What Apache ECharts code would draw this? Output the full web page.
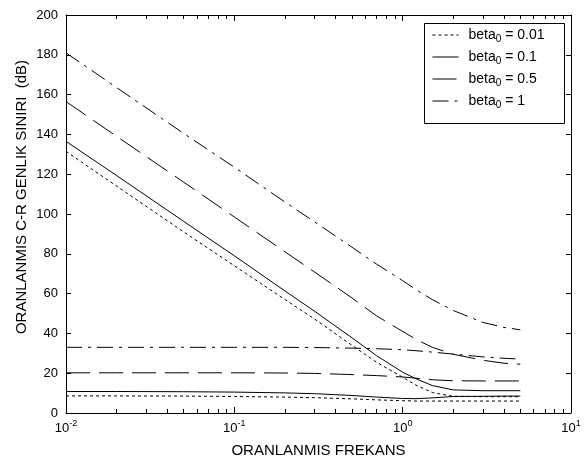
<!DOCTYPE html>
<html><head><meta charset="utf-8">
<script src="https://cdn.jsdelivr.net/npm/echarts@6/dist/echarts.min.js"></script>
<style>html,body{margin:0;padding:0;background:#fff}#c{width:586px;height:465px}</style>
</head><body><div id="c"></div>
<script>
// ---- data ----
const freq = [0.01, 0.02, 0.05, 0.1, 0.2, 0.3, 0.5, 0.7, 1, 1.2, 1.5, 2, 3, 4, 5];

const fallBeta001 = [131.5, 114, 91, 74, 57, 47.2, 34, 25.5, 18, 14, 10.3, 8.4, 8.2, 8.2, 8.2];
const flatBeta001 = [8.6, 8.6, 8.5, 8.3, 8.0, 7.7, 7.1, 6.6, 6.2, 6.0, 6.0, 6.0, 6.0, 6.0, 6.0];
const fallBeta01  = [136.5, 119.3, 96.3, 79, 61.3, 51.1, 37.8, 28.8, 20.5, 17.2, 13.8, 11.6, 11.2, 11.2, 11.2];
const flatBeta01  = [10.8, 10.8, 10.7, 10.5, 10.1, 9.7, 8.8, 8.0, 7.3, 7.2, 7.6, 8.3, 8.4, 8.5, 8.5];
const fallBeta05  = [156.5, 139, 116, 98.5, 81, 70.8, 57.8, 48.8, 41, 37, 33, 29.5, 26.5, 25, 24.5];
const flatBeta05  = [20.2, 20.2, 20.2, 20.2, 20.1, 19.9, 19.3, 18.8, 18.1, 17.5, 16.7, 16.2, 16.1, 16.1, 16.1];
const fallBeta1   = [181, 163.5, 140.5, 123.5, 106, 96, 83.3, 74.8, 66.5, 62, 57, 51.5, 45.5, 43, 41.8];
const flatBeta1   = [33, 33, 33, 33, 33, 32.9, 32.6, 32.3, 31.8, 31.3, 30.6, 29.6, 28.2, 27.5, 27.1];

const legendNames = ['beta_0 = 0.01', 'beta_0 = 0.1', 'beta_0 = 0.5', 'beta_0 = 1'];
const decadeExponents = [-2, -1, 0, 1];
const minorMultipliers = [2, 3, 4, 5, 6, 7, 8, 9];
const yMin = 0, yMax = 200, yStep = 20;

// ---- chart ----
const font = '"Liberation Sans", Arial, Helvetica, sans-serif';
const minorPos = [];
decadeExponents.slice(0, -1).forEach(e => minorMultipliers.forEach(m => minorPos.push(e + Math.log10(m))));

const dashes = [[3, 3], 'solid', [24, 9], [16, 6, 3, 6]];
const groups = [[fallBeta001, flatBeta001], [fallBeta01, flatBeta01], [fallBeta05, flatBeta05], [fallBeta1, flatBeta1]];
const series = [];
groups.forEach((g, k) => {
  g.forEach(ys => series.push({
    type: 'line', name: legendNames[k], xAxisIndex: 0, yAxisIndex: 0,
    data: freq.map((x, i) => [x, ys[i]]),
    symbol: 'none', showSymbol: false, smooth: false,
    itemStyle: { color: '#000' },
    lineStyle: { color: '#000', width: 1, type: dashes[k] },
    silent: true, animation: false, z: 2
  }));
});

function tickAxis(position, values, len, withLine) {
  return {
    type: 'value', min: -2, max: 1, position: position,
    axisLine: { show: withLine, onZero: false, lineStyle: { color: '#000', width: 1 } },
    axisTick: { show: true, inside: true, length: len, customValues: values, lineStyle: { color: '#000', width: 1 } },
    axisLabel: { show: false }, splitLine: { show: false }
  };
}

const bottomMajor = tickAxis('bottom', decadeExponents, 6, true);
bottomMajor.axisLabel = {
  show: true, customValues: decadeExponents, margin: 6,
  formatter: v => '{b|10}{s|' + v + '}',
  rich: {
    b: { fontSize: 13, fontFamily: font, color: '#000', lineHeight: 18 },
    s: { fontSize: 9, fontFamily: font, color: '#000', verticalAlign: 'top', lineHeight: 11 }
  }
};
bottomMajor.name = 'ORANLANMIS FREKANS';
bottomMajor.nameLocation = 'middle';
bottomMajor.nameGap = 30;
bottomMajor.nameMoveOverlap = false;
bottomMajor.nameTextStyle = { fontSize: 15, fontFamily: font, color: '#000' };

const option = {
  animation: false,
  backgroundColor: '#fff',
  grid: { left: 66, right: 15, top: 15, bottom: 52, containLabel: false, outerBoundsMode: 'none' },
  xAxis: [
    { type: 'log', logBase: 10, min: 0.01, max: 10, show: false },
    bottomMajor,
    tickAxis('bottom', minorPos, 4, false),
    tickAxis('top', decadeExponents, 6, true),
    tickAxis('top', minorPos, 4, false)
  ],
  yAxis: [
    {
      type: 'value', min: yMin, max: yMax, interval: yStep, position: 'left',
      axisLine: { show: true, onZero: false, lineStyle: { color: '#000', width: 1 } },
      axisTick: { show: true, inside: true, length: 5, lineStyle: { color: '#000' } },
      axisLabel: { show: true, margin: 8, fontSize: 13, fontFamily: font, color: '#000' },
      splitLine: { show: false },
      name: 'ORANLANMIS C-R GENLIK SINIRI  (dB)', nameLocation: 'middle', nameGap: 37,
      nameMoveOverlap: false,
      nameTextStyle: { fontSize: 15, fontFamily: font, color: '#000', padding: [0, 0, 0, 34] }
    },
    {
      type: 'value', min: yMin, max: yMax, interval: yStep, position: 'right',
      axisLine: { show: true, onZero: false, lineStyle: { color: '#000', width: 1 } },
      axisTick: { show: true, inside: true, length: 5, lineStyle: { color: '#000' } },
      axisLabel: { show: false }, splitLine: { show: false }
    }
  ],
  graphic: [{
    type: 'rect', z: 3, silent: true,
    shape: { x: 424.5, y: 23.5, width: 140, height: 100 },
    style: { fill: '#fff', stroke: '#000', lineWidth: 1 }
  }],
  legend: {
    show: true, orient: 'vertical', left: 432, top: 26, padding: 0,
    itemWidth: 26, itemHeight: 14, itemGap: 4, z: 5,
    selectedMode: false, data: legendNames,
    itemStyle: { opacity: 0, borderWidth: 0 },
    lineStyle: { width: 1 },
    formatter: n => n.replace('_0', '{sub|0}'),
    textStyle: {
      fontSize: 14, fontFamily: font, color: '#000', lineHeight: 18, padding: [0, 0, 0, 5],
      rich: { sub: { fontSize: 10, fontFamily: font, color: '#000', verticalAlign: 'bottom', lineHeight: 12 } }
    }
  },
  series: series
};
const chart = echarts.init(document.getElementById('c'), null, { renderer: 'canvas' });
chart.setOption(option);
</script>
</body></html>
